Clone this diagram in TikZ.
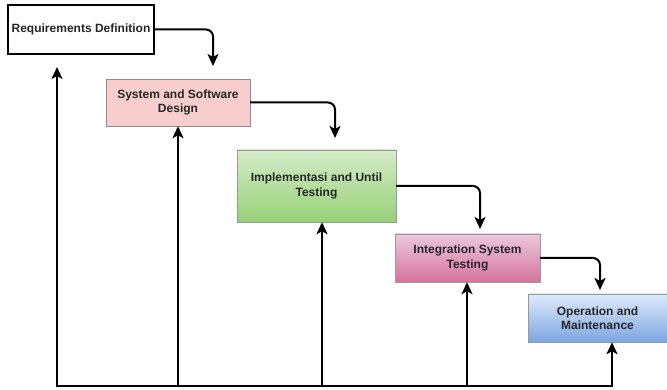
\documentclass[tikz,border=0pt]{standalone}
\usepackage{fontspec}
\setmainfont{Liberation Sans}
\usetikzlibrary{arrows.meta}
\begin{document}
\begin{tikzpicture}[x=1pt,y=-1pt,
  box/.style={draw, rectangle, inner sep=1pt, align=center,
    font=\bfseries\fontsize{12}{14.5}\selectfont, text=black!85},
  flow/.style={line width=2pt, rounded corners=7pt,
    -{Stealth[length=12pt,width=11pt,inset=3pt]}},
  line/.style={line width=2pt}]
\useasboundingbox (0,0) rectangle (667,390);
\node[box, line width=1.6pt, fill=white, minimum width=146pt, minimum height=49pt]
  (b1) at (81,29.5) {Requirements Definition};
\node[box, draw=black!45, fill={rgb,255:red,248;green,206;blue,204}, minimum width=144pt, minimum height=47pt]
  (b2) at (178,102.5) {System and Software\\Design};
\node[box, draw=black!40, top color={rgb,255:red,213;green,236;blue,200}, bottom color={rgb,255:red,151;green,208;blue,119}, minimum width=159pt, minimum height=72pt]
  (b3) at (316.5,186) {Implementasi and Until\\Testing};
\node[box, draw=black!40, top color={rgb,255:red,236;green,200;blue,220}, bottom color={rgb,255:red,213;green,115;blue,157}, minimum width=145pt, minimum height=48pt]
  (b4) at (467.5,258) {Integration System\\Testing};
\node[box, draw=black!40, top color={rgb,255:red,222;green,234;blue,252}, bottom color={rgb,255:red,126;green,166;blue,224}, minimum width=139pt, minimum height=48pt]
  (b5) at (597.5,318) {Operation and\\Maintenance};
% forward arrows
\coordinate (t2) at (213,66);
\coordinate (t3) at (335,138);
\coordinate (t4) at (480,229);
\coordinate (t5) at (600,290);
\draw[flow] (b1.east) -| (t2);
\draw[flow] (b2.east) -| (t3);
\draw[flow] (b3.east) -| (t4);
\draw[flow] (b4.east) -| (t5);
% feedback
\coordinate (f1) at (57,386);
\coordinate (f2) at (178,386);
\coordinate (f3) at (322,386);
\coordinate (f4) at (467,386);
\coordinate (f5) at (612,386);
\coordinate (u1) at (57,67);
\draw[line] ([xshift=-1pt]f1) -- ([xshift=1pt]f5);
\draw[flow] (f1) -- (u1);
\draw[flow] (f2) -- (f2 |- b2.south);
\draw[flow] (f3) -- (f3 |- b3.south);
\draw[flow] (f4) -- (f4 |- b4.south);
\draw[flow] (f5) -- (f5 |- b5.south);
\end{tikzpicture}
\end{document}
